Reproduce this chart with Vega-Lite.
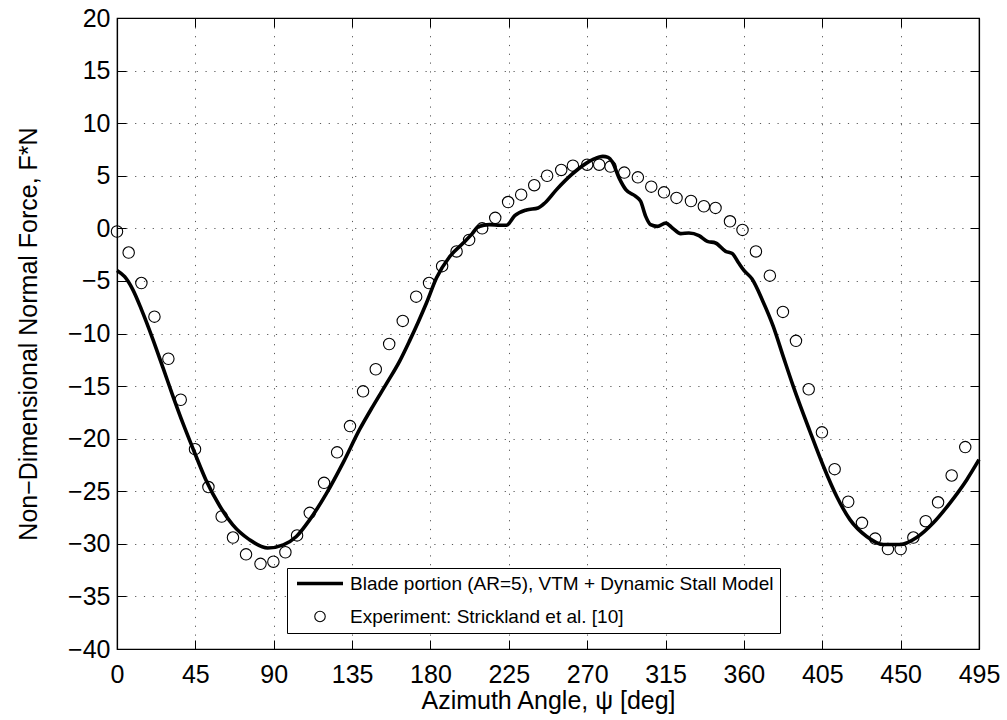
{
  "$schema": "https://vega.github.io/schema/vega-lite/v6.json",
  "width": 862,
  "height": 631,
  "autosize": {"type": "none"},
  "padding": {"left": 117, "top": 18, "right": 28, "bottom": 71},
  "background": "white",
  "config": {
    "font": "Liberation Sans",
    "view": {"stroke": "black", "strokeWidth": 1.2},
    "axis": {
      "domainColor": "black",
      "domainWidth": 1.2,
      "tickColor": "black",
      "tickSize": -9,
      "tickWidth": 1,
      "gridColor": "#000000",
      "gridDash": [1.2, 7.6],
      "gridOpacity": 0.65,
      "gridWidth": 1,
      "labelFontSize": 25,
      "labelColor": "black",
      "titleFontSize": 25,
      "titleFontWeight": "normal",
      "titleColor": "black"
    }
  },
  "datasets": {
    "sim": [
      {"psi": 0, "fn": -4.0}, {"psi": 4.4, "fn": -4.6}, {"psi": 9, "fn": -5.8}, {"psi": 14, "fn": -7.7},
      {"psi": 20.5, "fn": -10.5}, {"psi": 26.5, "fn": -13.3}, {"psi": 32, "fn": -15.9}, {"psi": 38, "fn": -18.6},
      {"psi": 44, "fn": -21.1}, {"psi": 51, "fn": -23.9}, {"psi": 59, "fn": -26.4}, {"psi": 66.5, "fn": -28.2},
      {"psi": 76, "fn": -29.6}, {"psi": 86.5, "fn": -30.4}, {"psi": 95.5, "fn": -30.1}, {"psi": 103, "fn": -29.3},
      {"psi": 110.7, "fn": -27.7}, {"psi": 120.3, "fn": -25.2}, {"psi": 129.8, "fn": -22.3}, {"psi": 139.4, "fn": -19.1},
      {"psi": 147, "fn": -16.9}, {"psi": 155, "fn": -14.7}, {"psi": 162.4, "fn": -12.6}, {"psi": 168, "fn": -10.7},
      {"psi": 173, "fn": -8.9}, {"psi": 177.7, "fn": -7.1}, {"psi": 183.5, "fn": -4.7}, {"psi": 191, "fn": -2.7},
      {"psi": 198.8, "fn": -1.4}, {"psi": 204, "fn": -0.5}, {"psi": 207.4, "fn": 0.15}, {"psi": 214, "fn": 0.35},
      {"psi": 219.9, "fn": 0.3}, {"psi": 223.7, "fn": 0.3}, {"psi": 228.4, "fn": 1.2}, {"psi": 235.1, "fn": 1.75},
      {"psi": 241.8, "fn": 1.94}, {"psi": 245.7, "fn": 2.41}, {"psi": 252.4, "fn": 3.68}, {"psi": 261, "fn": 5.1},
      {"psi": 269.6, "fn": 6.2}, {"psi": 274, "fn": 6.6}, {"psi": 279, "fn": 6.84}, {"psi": 282, "fn": 6.75},
      {"psi": 284.5, "fn": 6.3}, {"psi": 288.3, "fn": 4.8}, {"psi": 292.2, "fn": 3.68}, {"psi": 297.9, "fn": 3.04},
      {"psi": 300.7, "fn": 2.57}, {"psi": 303.6, "fn": 1.14}, {"psi": 306.4, "fn": 0.35}, {"psi": 310.3, "fn": 0.19},
      {"psi": 315.1, "fn": 0.5}, {"psi": 318.9, "fn": 0.04}, {"psi": 323.7, "fn": -0.5}, {"psi": 328.4, "fn": -0.44},
      {"psi": 334.2, "fn": -0.69}, {"psi": 339.0, "fn": -1.24}, {"psi": 343.7, "fn": -1.39}, {"psi": 349.5, "fn": -2.19},
      {"psi": 353.3, "fn": -2.4}, {"psi": 357, "fn": -3.3}, {"psi": 360, "fn": -4.0}, {"psi": 364.6, "fn": -4.8},
      {"psi": 370.8, "fn": -6.9}, {"psi": 376.8, "fn": -9.3}, {"psi": 382.6, "fn": -12.2}, {"psi": 388.3, "fn": -15.0},
      {"psi": 397.9, "fn": -19.3}, {"psi": 405.6, "fn": -22.6}, {"psi": 413.3, "fn": -25.5}, {"psi": 420.9, "fn": -27.7},
      {"psi": 430.5, "fn": -29.3}, {"psi": 440.1, "fn": -30.07}, {"psi": 449.7, "fn": -30.07}, {"psi": 459.2, "fn": -29.4},
      {"psi": 468.8, "fn": -28.0}, {"psi": 478.4, "fn": -26.1}, {"psi": 488, "fn": -23.9}, {"psi": 495, "fn": -22.0}
    ],
    "exp": [
      {"psi": 0, "fn": -0.3}, {"psi": 6.7, "fn": -2.3}, {"psi": 14.0, "fn": -5.2}, {"psi": 21.5, "fn": -8.4},
      {"psi": 29.5, "fn": -12.4}, {"psi": 36.6, "fn": -16.3}, {"psi": 44.8, "fn": -21.0}, {"psi": 52.5, "fn": -24.6},
      {"psi": 60.1, "fn": -27.4}, {"psi": 66.6, "fn": -29.4}, {"psi": 74.1, "fn": -31.0}, {"psi": 82.4, "fn": -31.9},
      {"psi": 89.8, "fn": -31.7}, {"psi": 96.7, "fn": -30.8}, {"psi": 103.4, "fn": -29.2}, {"psi": 110.7, "fn": -27.05},
      {"psi": 118.9, "fn": -24.2}, {"psi": 126.4, "fn": -21.3}, {"psi": 133.8, "fn": -18.8}, {"psi": 141.3, "fn": -15.5},
      {"psi": 148.6, "fn": -13.4}, {"psi": 156.3, "fn": -11.0}, {"psi": 164.1, "fn": -8.8}, {"psi": 171.8, "fn": -6.5},
      {"psi": 179.2, "fn": -5.2}, {"psi": 186.7, "fn": -3.6}, {"psi": 195.0, "fn": -2.2}, {"psi": 202.2, "fn": -1.1},
      {"psi": 209.7, "fn": 0.0}, {"psi": 217.2, "fn": 1.0}, {"psi": 224.6, "fn": 2.5}, {"psi": 232.1, "fn": 3.2},
      {"psi": 239.6, "fn": 4.1}, {"psi": 247.0, "fn": 5.0}, {"psi": 255.1, "fn": 5.55}, {"psi": 261.8, "fn": 5.96},
      {"psi": 270.0, "fn": 6.05}, {"psi": 276.9, "fn": 6.05}, {"psi": 283.4, "fn": 5.87}, {"psi": 291.3, "fn": 5.3},
      {"psi": 299.1, "fn": 4.85}, {"psi": 306.8, "fn": 3.96}, {"psi": 314.1, "fn": 3.42}, {"psi": 321.3, "fn": 2.89},
      {"psi": 329.6, "fn": 2.6}, {"psi": 337.0, "fn": 2.1}, {"psi": 343.7, "fn": 1.94}, {"psi": 352.0, "fn": 0.67},
      {"psi": 359.2, "fn": -0.15}, {"psi": 366.9, "fn": -2.2}, {"psi": 374.9, "fn": -4.5}, {"psi": 382.4, "fn": -7.95},
      {"psi": 389.9, "fn": -10.7}, {"psi": 397.2, "fn": -15.3}, {"psi": 404.8, "fn": -19.4}, {"psi": 412.1, "fn": -22.9},
      {"psi": 419.9, "fn": -26.0}, {"psi": 427.8, "fn": -28.0}, {"psi": 435.4, "fn": -29.5}, {"psi": 442.7, "fn": -30.5},
      {"psi": 450.0, "fn": -30.5}, {"psi": 457.3, "fn": -29.4}, {"psi": 464.4, "fn": -27.85}, {"psi": 471.5, "fn": -26.05},
      {"psi": 479.3, "fn": -23.5}, {"psi": 487.1, "fn": -20.8}
    ]
  },
  "resolve": {"axis": {"x": "independent", "y": "independent"}},
  "layer": [
    {
      "data": {"name": "sim"},
      "transform": [{"calculate": "'Blade portion (AR=5), VTM + Dynamic Stall Model'", "as": "series"}],
      "mark": {"type": "line", "strokeWidth": 3.6, "interpolate": "monotone"},
      "encoding": {
        "x": {
          "field": "psi", "type": "quantitative",
          "scale": {"domain": [0, 495], "nice": false, "zero": false},
          "axis": {"values": [0, 45, 90, 135, 180, 225, 270, 315, 360, 405, 450, 495], "labelPadding": 22, "title": "Azimuth Angle, ψ [deg]", "titlePadding": 1, "labelFlush": false}
        },
        "y": {
          "field": "fn", "type": "quantitative",
          "scale": {"domain": [-40, 20], "nice": false, "zero": false},
          "axis": {"values": [-40, -35, -30, -25, -20, -15, -10, -5, 0, 5, 10, 15, 20], "labelPadding": 16, "title": "Non−Dimensional Normal Force, F*N", "titlePadding": 26, "labelFlush": false}
        },
        "color": {
          "field": "series", "type": "nominal",
          "scale": {"domain": ["Blade portion (AR=5), VTM + Dynamic Stall Model", "Experiment: Strickland et al. [10]"], "range": ["black", "black"]},
          "legend": {
            "title": null,
            "orient": "none",
            "legendX": 170,
            "legendY": 550,
            "direction": "vertical",
            "strokeColor": "black",
            "fillColor": "white",
            "padding": 6,
            "rowPadding": 13,
            "labelFontSize": 19,
            "labelColor": "black",
            "labelOffset": 7,
            "labelLimit": 600,
            "encode": {
              "symbols": {
                "update": {
                  "x": {"value": 27},
                  "shape": {"signal": "datum.value === 'Experiment: Strickland et al. [10]' ? 'circle' : 'stroke'"},
                  "size": {"signal": "datum.value === 'Experiment: Strickland et al. [10]' ? 110 : 2116"},
                  "strokeWidth": {"signal": "datum.value === 'Experiment: Strickland et al. [10]' ? 1.1 : 3.6"},
                  "stroke": {"value": "black"},
                  "fill": {"value": "transparent"}
                }
              },
              "labels": {
                "update": {"x": {"value": 57}}
              }
            }
          }
        }
      }
    },
    {
      "data": {"name": "exp"},
      "transform": [{"calculate": "'Experiment: Strickland et al. [10]'", "as": "series"}],
      "mark": {"type": "point", "shape": "circle", "filled": false, "size": 130, "strokeWidth": 1.1, "opacity": 1},
      "encoding": {
        "x": {"field": "psi", "type": "quantitative", "axis": null},
        "y": {"field": "fn", "type": "quantitative", "axis": null},
        "color": {"field": "series", "type": "nominal"}
      }
    },
    {
      "data": {"name": "exp"},
      "mark": {"type": "point", "opacity": 0},
      "encoding": {
        "x": {"field": "psi", "type": "quantitative", "axis": {"orient": "top", "values": [0, 45, 90, 135, 180, 225, 270, 315, 360, 405, 450, 495], "labels": false, "grid": false, "title": null}},
        "y": {"field": "fn", "type": "quantitative", "axis": {"orient": "right", "values": [-40, -35, -30, -25, -20, -15, -10, -5, 0, 5, 10, 15, 20], "labels": false, "grid": false, "title": null}}
      }
    }
  ]
}
